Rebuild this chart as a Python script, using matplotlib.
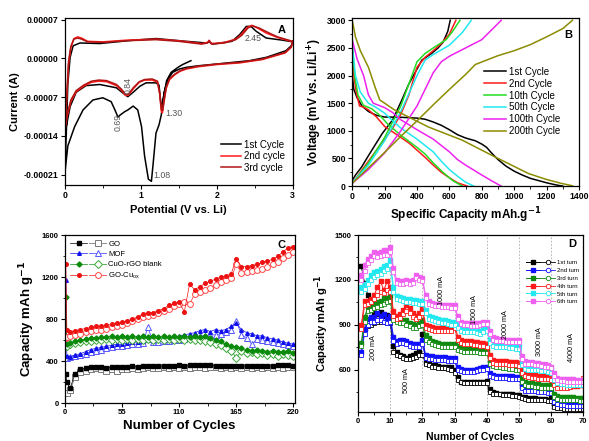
import matplotlib
matplotlib.use('Agg')
import matplotlib.pyplot as plt
from matplotlib.legend_handler import HandlerTuple
from matplotlib.lines import Line2D
from matplotlib.ticker import MultipleLocator, FixedLocator, FormatStrFormatter

plt.rcParams['font.family'] = ['Liberation Sans', 'DejaVu Sans']
plt.rcParams['mathtext.default'] = 'regular'

# ---------------- A: cyclic voltammetry (current in 1e-5 A) ----------------
cv1_v = [1.66, 1.55, 1.49, 1.40, 1.34, 1.30, 1.27, 1.24, 1.20, 1.16, 1.14, 1.10, 1.05, 1.01,
         0.96, 0.90, 0.83, 0.79, 0.73, 0.70, 0.66, 0.61, 0.50, 0.37, 0.24, 0.13, 0.04, 0.0,
         0.02, 0.04, 0.07, 0.11, 0.20, 0.46, 0.90, 1.20, 1.60, 1.86, 1.90, 1.95, 2.20, 2.30,
         2.39, 2.45, 2.52, 2.65, 2.87, 3.0,
         2.98, 2.91, 2.65, 2.43, 2.21, 2.0, 1.77, 1.60, 1.51, 1.42, 1.36, 1.31, 1.28, 1.26,
         1.24, 1.20, 1.07, 0.99, 0.90, 0.83, 0.77, 0.68, 0.46, 0.28, 0.15, 0.07, 0.02, 0.0]
cv1_i = [-0.4, -1.1, -1.6, -2.5, -4.0, -6.9, -10.2, -12.0, -13.5, -19.4, -22.2, -21.8, -17.6, -12.3,
         -9.3, -8.6, -9.3, -9.6, -10.2, -10.6, -9.3, -7.8, -7.1, -7.5, -9.3, -12.3, -15.8, -20.9,
         -13.5, -4.6, 0.2, 2.3, 2.8, 2.7, 3.3, 3.6, 3.1, 2.8, 3.0, 2.6, 3.1, 4.3,
         5.8, 5.8, 4.9, 3.7, 3.3, 3.0,
         2.3, 1.4, 0.2, -0.4, -0.7, -1.0, -1.3, -1.6, -1.9, -2.5, -3.7, -6.0, -9.0, -7.5,
         -4.8, -4.4, -4.4, -5.0, -6.1, -6.9, -6.3, -5.3, -4.7, -4.9, -6.1, -8.7, -12.3, -13.5]

cv2_v = [3.0, 2.98, 2.9, 2.6, 2.3, 2.0, 1.75, 1.6, 1.52, 1.45, 1.38, 1.33, 1.30, 1.285, 1.27,
         1.25, 1.22, 1.15, 1.05, 0.98, 0.90, 0.84, 0.80, 0.75, 0.68, 0.55, 0.45, 0.35, 0.25,
         0.15, 0.08, 0.03, 0.0, 0.01, 0.03, 0.05, 0.08, 0.12, 0.17, 0.22, 0.30, 0.50, 0.80,
         1.0, 1.2, 1.5, 1.8, 1.88, 1.90, 1.93, 2.1, 2.25, 2.32, 2.40, 2.46, 2.55, 2.65, 2.8,
         2.9, 3.0]
cv2_i = [3.0, 2.0, 1.0, -0.2, -0.8, -1.1, -1.5, -1.9, -2.3, -2.9, -3.8, -5.5, -8.0, -9.8, -9.5,
         -6.5, -4.3, -3.9, -3.9, -4.3, -5.5, -6.6, -6.7, -5.8, -4.9, -4.2, -4.1, -4.3, -5.0,
         -6.0, -7.8, -10.5, -13.0, -11.0, -6.0, -1.0, 2.0, 3.6, 3.9, 3.7, 3.1, 3.0, 3.3,
         3.4, 3.5, 3.2, 2.7, 2.9, 3.3, 2.7, 2.9, 3.5, 4.3, 5.6, 6.0, 5.4, 4.6, 3.8,
         3.4, 3.0]

cv3_v = [3.0, 2.98, 2.9, 2.6, 2.3, 2.0, 1.75, 1.6, 1.52, 1.45, 1.38, 1.34, 1.31, 1.29, 1.27,
         1.25, 1.22, 1.15, 1.05, 0.98, 0.90, 0.84, 0.80, 0.75, 0.68, 0.55, 0.45, 0.35, 0.25,
         0.15, 0.08, 0.03, 0.0, 0.01, 0.03, 0.05, 0.08, 0.12, 0.17, 0.22, 0.30, 0.50, 0.80,
         1.0, 1.2, 1.5, 1.8, 1.88, 1.90, 1.93, 2.1, 2.25, 2.33, 2.41, 2.47, 2.56, 2.66, 2.8,
         2.9, 3.0]
cv3_i = [3.1, 2.1, 1.1, -0.1, -0.7, -1.0, -1.4, -1.8, -2.2, -2.8, -3.6, -5.0, -7.5, -9.4, -9.2,
         -6.3, -4.1, -3.7, -3.8, -4.2, -5.3, -6.4, -6.5, -5.6, -4.7, -4.0, -3.9, -4.1, -4.8,
         -5.8, -7.5, -10.2, -12.6, -10.5, -5.5, -0.5, 2.2, 3.5, 3.7, 3.5, 3.0, 2.9, 3.2,
         3.3, 3.4, 3.1, 2.6, 2.8, 3.2, 2.6, 2.8, 3.4, 4.2, 5.5, 5.9, 5.5, 4.8, 3.9,
         3.5, 3.1]

# ---------------- B: charge / discharge profiles ----------------
b_labels = ['1st Cycle', '2nd Cycle', '10th Cycle', '50th Cycle', '100th Cycle', '200th Cycle']
b_colors = ['black', '#ff1a1a', '#22dd22', '#22e8f0', '#ee22ee', '#8c8c00']
dis_cap = [
    [0, 10, 30, 60, 100, 150, 200, 300, 400, 450, 500, 550, 600, 650, 700, 760, 800, 830, 860,
     900, 950, 1000, 1050, 1100, 1200, 1260, 1300],
    [0, 10, 25, 45, 70, 100, 150, 200, 250, 300, 350, 400, 450, 500, 550, 600, 650, 710],
    [0, 15, 35, 70, 120, 170, 220, 300, 400, 450, 500, 560, 620, 680],
    [0, 20, 50, 100, 150, 200, 250, 300, 400, 500, 550, 600, 650, 700, 750],
    [0, 30, 70, 100, 130, 200, 250, 300, 400, 500, 600, 650, 700, 800, 870, 920],
    [0, 20, 50, 100, 140, 170, 260, 470, 680, 880, 1090, 1200, 1290, 1360],
]
dis_volt = [
    [2000, 1750, 1600, 1450, 1350, 1280, 1250, 1245, 1230, 1210, 1160, 1100, 1020, 930, 870, 820,
     760, 700, 600, 480, 360, 270, 200, 140, 60, 20, 0],
    [2500, 2000, 1700, 1450, 1430, 1380, 1250, 1080, 980, 880, 780, 650, 520, 380, 250, 150, 60, 0],
    [2600, 2000, 1650, 1460, 1400, 1280, 1120, 920, 700, 580, 420, 250, 100, 0],
    [2550, 2000, 1700, 1500, 1420, 1320, 1180, 1050, 850, 620, 450, 300, 180, 70, 0],
    [2650, 2300, 2000, 1650, 1500, 1420, 1330, 1200, 1020, 850, 620, 480, 380, 200, 80, 0],
    [3000, 2700, 2450, 2150, 1800, 1560, 1380, 1070, 830, 530, 225, 120, 50, 5],
]
chg_cap = [
    [0, 20, 58, 100, 185, 250, 305, 350, 408, 430, 490, 530, 560, 590, 605],
    [0, 50, 100, 150, 200, 250, 300, 350, 400, 450, 500, 550, 600, 640],
    [0, 100, 200, 300, 350, 400, 450, 500, 580, 620, 665],
    [0, 100, 200, 300, 400, 450, 500, 600, 680, 735],
    [0, 100, 200, 300, 400, 450, 500, 550, 600, 700, 800, 920],
    [0, 100, 200, 300, 400, 500, 600, 700, 760, 900, 1000, 1100, 1200, 1300, 1360],
]
chg_volt = [
    [100, 200, 345, 550, 950, 1200, 1550, 1850, 2160, 2280, 2400, 2500, 2600, 2800, 3000],
    [50, 250, 450, 650, 850, 1050, 1300, 1650, 2150, 2330, 2450, 2580, 2750, 3000],
    [50, 420, 880, 1450, 1850, 2250, 2400, 2500, 2650, 2800, 3000],
    [60, 380, 820, 1350, 2000, 2280, 2380, 2550, 2780, 3000],
    [50, 300, 600, 1000, 1450, 1750, 2050, 2250, 2350, 2500, 2650, 3000],
    [50, 330, 610, 900, 1180, 1470, 1750, 2020, 2200, 2360, 2450, 2560, 2700, 2850, 3000],
]

# ---------------- C: cycling performance ----------------
c_cycles = [1, 2, 5, 10, 15, 20, 25, 30, 35, 40, 45, 50, 55, 60, 65, 70, 75, 80, 85, 90, 95,
            100, 105, 110, 115, 120, 125, 130, 135, 140, 145, 150, 155, 160, 165, 170, 175,
            180, 185, 190, 195, 200, 205, 210, 215, 220]
c_labels = ['GO', 'MOF', 'CuO-rGO blank', 'GO-Cu$_{ox}$']
go_fill = [280, 200, 140, 280, 320, 330, 340, 340, 340, 335, 340, 345, 340, 345, 350, 345, 350,
           355, 350, 350, 355, 350, 355, 360, 355, 360, 360, 360, 360, 360, 355, 350, 355, 350,
           355, 350, 355, 350, 355, 350, 355, 355, 360, 360, 360, 355]
go_open = [100, 100, 120, 250, 300, 310, 320, 330, 320, 310, 320, 310, 320, 320, 330, 320, 330,
           340, 330, 330, 340, 330, 340, 330, 340, 330, 340, 340, 330, 340, 340, 330, 340, 330,
           340, 330, 340, 330, 340, 330, 340, 330, 340, 330, 340, 340]
mof_fill = [1170, 450, 440, 460, 470, 490, 510, 520, 530, 540, 550, 560, 560, 570, 580, 580, 590,
            600, 600, 610, 610, 620, 620, 640, 650, 660, 670, 690, 700, 680, 700, 690, 700, 730,
            760, 700, 670, 660, 640, 640, 620, 610, 600, 580, 570, 560]
mof_open = [430, 430, 440, 450, 460, 470, 490, 500, 510, 520, 530, 540, 540, 550, 560, 560, 570,
            720, 580, 580, 590, 590, 600, 600, 610, 620, 630, 640, 640, 650, 650, 660, 680, 700,
            780, 650, 620, 560, 610, 600, 590, 580, 570, 560, 550, 540]
cuo_fill = [1010, 560, 570, 590, 600, 610, 620, 620, 630, 630, 640, 630, 640, 630, 640, 630, 640,
            630, 640, 630, 640, 630, 640, 630, 640, 630, 640, 630, 640, 620, 600, 590, 560, 540,
            530, 520, 510, 500, 510, 500, 490, 500, 490, 490, 500, 480]
cuo_open = [540, 540, 560, 570, 580, 590, 590, 600, 600, 610, 600, 610, 600, 610, 600, 610, 600,
            610, 600, 610, 600, 610, 600, 610, 600, 610, 600, 600, 590, 580, 560, 550, 520, 500,
            430, 500, 480, 490, 470, 480, 460, 470, 450, 470, 460, 450]
gocu_fill = [1320, 700, 680, 690, 700, 710, 720, 730, 730, 740, 750, 760, 770, 780, 800, 820, 850,
             860, 860, 880, 900, 930, 950, 960, 870, 1130, 1080, 1110, 1140, 1160, 1180, 1200,
             1210, 1230, 1370, 1300, 1300, 1310, 1320, 1340, 1350, 1370, 1400, 1440, 1480, 1490]
gocu_open = [620, 630, 640, 650, 660, 680, 690, 700, 700, 710, 720, 730, 740, 760, 780, 800, 820,
             830, 840, 860, 880, 900, 920, 940, 960, 940, 1040, 1060, 1080, 1100, 1120, 1150,
             1170, 1190, 1320, 1240, 1250, 1260, 1270, 1280, 1300, 1320, 1340, 1380, 1410, 1440]

# ---------------- D: rate capability ----------------
d_cycles = list(range(1, 71))
d_labels = ['1st turn', '2nd turn', '3rd turn', '4th turn', '5th turn', '6th turn']
d_rate_pos = [4.7, 15, 26, 36.3, 46, 56.5, 66.4]
d_rate_val = [750, 530, 1130, 1000, 905, 785, 750]
d_rate_txt = ['200 mA', '500 mA', '1000 mA', '1500 mA', '2000 mA', '3000 mA', '4000 mA']
d_fill = [
    [1290, 1180, 1100, 1020, 980, 970, 985, 960, 965, 950,
     760, 720, 700, 690, 680, 690, 700, 710, 720, 840,
     650, 640, 630, 630, 625, 620, 620, 620, 620, 600,
     550, 520, 520, 520, 520, 520, 520, 520, 520, 525,
     470, 450, 445, 440, 440, 440, 435, 435, 430, 430,
     420, 415, 410, 410, 410, 405, 405, 405, 400, 420,
     370, 360, 360, 355, 355, 355, 350, 350, 350, 350],
    [720, 870, 940, 950, 950, 980, 960, 970, 940, 960,
     820, 790, 800, 800, 790, 780, 775, 770, 770, 800,
     700, 690, 690, 685, 685, 685, 685, 680, 680, 680,
     620, 605, 600, 600, 600, 600, 605, 610, 620, 620,
     580, 565, 560, 560, 560, 560, 555, 555, 550, 550,
     500, 475, 470, 470, 470, 465, 465, 460, 460, 460,
     400, 385, 380, 380, 375, 375, 375, 370, 370, 370],
    [780, 950, 1020, 1020, 1040, 1050, 1060, 1080, 1080, 1090,
     960, 945, 940, 935, 930, 915, 905, 900, 910, 930,
     830, 810, 790, 785, 780, 775, 775, 770, 770, 770,
     760, 750, 745, 745, 740, 740, 735, 735, 730, 730,
     660, 645, 640, 635, 630, 630, 625, 625, 620, 620,
     540, 515, 510, 510, 505, 505, 500, 500, 500, 500,
     440, 425, 420, 420, 415, 415, 415, 410, 410, 410],
    [900, 1060, 1060, 1070, 1100, 1150, 1190, 1130, 1190, 1150,
     990, 960, 970, 1000, 1030, 1010, 980, 960, 980, 1010,
     900, 890, 885, 880, 880, 885, 880, 880, 885, 910,
     820, 800, 795, 790, 790, 785, 785, 780, 780, 775,
     700, 665, 660, 660, 655, 655, 650, 650, 650, 645,
     600, 575, 570, 565, 565, 560, 560, 555, 555, 550,
     520, 500, 500, 495, 495, 495, 490, 490, 495, 500],
    [1150, 1170, 1200, 1230, 1250, 1260, 1270, 1290, 1300, 1330,
     1150, 1090, 1085, 1080, 1075, 1070, 1065, 1065, 1060, 1060,
     1000, 960, 950, 945, 940, 935, 930, 925, 920, 920,
     900, 880, 875, 875, 870, 870, 865, 860, 870, 880,
     800, 780, 775, 775, 770, 770, 765, 765, 760, 760,
     650, 625, 620, 620, 615, 615, 610, 610, 605, 600,
     550, 530, 525, 525, 520, 520, 520, 520, 520, 520],
    [1230, 1300, 1340, 1360, 1390, 1380, 1390, 1400, 1400, 1420,
     1280, 1200, 1190, 1190, 1200, 1190, 1200, 1230, 1220, 1210,
     1100, 1060, 1045, 1040, 1040, 1035, 1035, 1035, 1030, 1030,
     960, 920, 915, 915, 910, 910, 910, 915, 920, 920,
     860, 820, 810, 805, 805, 800, 800, 800, 800, 800,
     690, 655, 650, 650, 645, 645, 640, 635, 630, 620,
     580, 545, 540, 540, 535, 535, 535, 530, 530, 530],
]
d_open = [
    [880, 870, 890, 900, 910, 920, 920, 920, 915, 915,
     720, 700, 690, 680, 670, 670, 675, 685, 700, 700,
     640, 630, 620, 615, 610, 610, 610, 605, 600, 580,
     530, 515, 510, 510, 510, 510, 510, 510, 510, 510,
     450, 440, 435, 435, 430, 430, 430, 425, 425, 420,
     410, 405, 400, 400, 400, 395, 395, 395, 390, 390,
     350, 345, 345, 340, 340, 340, 340, 335, 335, 335],
    [700, 840, 900, 920, 920, 930, 930, 920, 910, 920,
     790, 770, 780, 780, 770, 760, 755, 750, 750, 770,
     680, 670, 670, 665, 665, 665, 665, 660, 660, 660,
     600, 590, 585, 585, 585, 585, 590, 595, 600, 605,
     560, 550, 545, 545, 545, 545, 540, 540, 540, 535,
     480, 460, 455, 455, 455, 450, 450, 450, 445, 445,
     385, 370, 365, 365, 360, 360, 360, 355, 355, 355],
    [760, 920, 990, 1000, 1010, 1020, 1030, 1040, 1050, 1060,
     930, 920, 915, 910, 900, 890, 880, 880, 890, 900,
     800, 785, 770, 765, 760, 755, 755, 750, 750, 750,
     735, 725, 720, 720, 715, 715, 715, 710, 710, 710,
     640, 625, 620, 615, 610, 610, 605, 605, 600, 600,
     515, 495, 490, 490, 485, 485, 480, 480, 480, 480,
     420, 405, 400, 400, 400, 395, 395, 395, 390, 390],
    [870, 1030, 1040, 1050, 1070, 1100, 1120, 1110, 1130, 1120,
     960, 940, 945, 970, 990, 980, 950, 940, 950, 980,
     880, 870, 865, 860, 860, 860, 860, 860, 860, 880,
     800, 780, 775, 770, 770, 765, 765, 760, 760, 755,
     680, 645, 640, 640, 635, 635, 630, 630, 630, 625,
     580, 555, 550, 545, 545, 540, 540, 535, 535, 530,
     500, 480, 480, 480, 480, 485, 490, 500, 520, 545],
    [1120, 1140, 1170, 1200, 1220, 1230, 1240, 1260, 1270, 1300,
     1120, 1070, 1065, 1060, 1055, 1050, 1045, 1045, 1040, 1040,
     980, 940, 930, 925, 920, 915, 910, 905, 900, 900,
     880, 860, 855, 855, 850, 850, 845, 840, 850, 860,
     780, 760, 755, 755, 750, 750, 745, 745, 740, 740,
     630, 605, 600, 600, 595, 595, 590, 590, 585, 580,
     530, 510, 505, 505, 500, 500, 500, 500, 500, 500],
    [1200, 1260, 1310, 1330, 1360, 1350, 1360, 1370, 1370, 1390,
     1250, 1180, 1170, 1170, 1180, 1170, 1180, 1210, 1200, 1190,
     1080, 1040, 1030, 1025, 1025, 1020, 1020, 1020, 1015, 1015,
     940, 905, 900, 900, 895, 895, 895, 900, 905, 905,
     840, 800, 795, 790, 790, 785, 785, 785, 785, 785,
     670, 640, 635, 635, 630, 630, 625, 620, 615, 610,
     560, 530, 525, 525, 520, 520, 520, 520, 520, 520],
]
d_colors = ['black', '#1010ff', '#108a10', '#ff1a1a', '#22e8f0', '#f060f0']


def style_axis(ax, size):
    ax.tick_params(direction='out', length=3, width=0.8, labelsize=size, pad=1.5)
    ax.tick_params(which='minor', direction='out', length=1.8, width=0.6)
    ax.tick_params(top=False, right=False, which='both')
    for lab in ax.get_xticklabels() + ax.get_yticklabels():
        lab.set_fontweight('bold')
    for s in ax.spines.values():
        s.set_linewidth(0.9)


fig = plt.figure(figsize=(5.89, 4.41), dpi=100)

# ---- panel A ----
axA = fig.add_axes([0.110, 0.580, 0.387, 0.379])
axA.plot(cv1_v, [i * 1e-5 for i in cv1_i], color='black', lw=1.1, label='1st Cycle')
axA.plot(cv2_v, [i * 1e-5 for i in cv2_i], color='#ff1a1a', lw=1.1, label='2nd cycle')
axA.plot(cv3_v, [i * 1e-5 for i in cv3_i], color='#b01515', lw=1.1, label='3rd cycle')
axA.set_xlim(0, 3)
axA.set_ylim(-0.000229, 0.000073)
axA.xaxis.set_major_locator(MultipleLocator(1))
axA.xaxis.set_minor_locator(MultipleLocator(0.5))
axA.yaxis.set_major_locator(FixedLocator([0.00007, 0.0, -0.00007, -0.00014, -0.00021]))
axA.yaxis.set_major_formatter(FormatStrFormatter('%.5f'))
axA.set_xlabel('Potential (V vs. Li)', fontsize=8, fontweight='bold', labelpad=3)
axA.set_ylabel('Current (A)', fontsize=8, fontweight='bold', labelpad=3)
style_axis(axA, 6.3)
axA.legend(loc='lower right', bbox_to_anchor=(0.99, 0.04), fontsize=7, frameon=False,
           handlelength=2.0, labelspacing=0.15, borderaxespad=0.2, handletextpad=0.3)
axA.text(0.97, 0.93, 'A', transform=axA.transAxes, ha='right', va='center', fontsize=8,
         fontweight='bold')
ann_col = '#555555'
axA.text(2.36, 0.000036, '2.45', fontsize=6.3, color=ann_col, ha='left', va='center')
axA.text(0.83, -0.000048, '0.84', fontsize=6.3, color=ann_col, rotation=90, ha='center', va='center')
axA.text(0.70, -0.000115, '0.69', fontsize=6.3, color=ann_col, rotation=90, ha='center', va='center')
axA.text(1.32, -0.0001, '1.30', fontsize=6.3, color=ann_col, ha='left', va='center')
axA.text(1.16, -0.000212, '1.08', fontsize=6.3, color=ann_col, ha='left', va='center')

# ---- panel B ----
axB = fig.add_axes([0.598, 0.578, 0.385, 0.381])
for k in range(len(b_labels)):
    axB.plot(dis_cap[k], dis_volt[k], color=b_colors[k], lw=1.1, label=b_labels[k])
    axB.plot(chg_cap[k], chg_volt[k], color=b_colors[k], lw=1.1)
axB.set_xlim(0, 1400)
axB.set_ylim(0, 3040)
axB.xaxis.set_major_locator(MultipleLocator(200))
axB.xaxis.set_minor_locator(MultipleLocator(100))
axB.yaxis.set_major_locator(MultipleLocator(500))
axB.yaxis.set_minor_locator(MultipleLocator(250))
axB.set_xlabel('Specific Capacity mAh.g$^{\\mathbf{-1}}$', fontsize=8.5, fontweight='bold', labelpad=3)
axB.set_ylabel('Voltage (mV vs. Li/Li$^{\\mathbf{+}}$)', fontsize=8.5, fontweight='bold', labelpad=2)
style_axis(axB, 6.2)
axB.legend(loc='upper left', bbox_to_anchor=(0.56, 0.74), fontsize=7, frameon=False,
           handlelength=2.3, labelspacing=0.2, borderaxespad=0.1, handletextpad=0.3)
axB.text(0.97, 0.90, 'B', transform=axB.transAxes, ha='right', va='center', fontsize=8,
         fontweight='bold')

# ---- panel C ----
axC = fig.add_axes([0.110, 0.086, 0.390, 0.381])
c_sets = [(go_fill, go_open, 's', 'black', '#7a7a7a'),
          (mof_fill, mof_open, '^', '#1010ee', '#5555ff'),
          (cuo_fill, cuo_open, 'D', '#0a8a0a', '#3aa83a'),
          (gocu_fill, gocu_open, 'o', '#ee1111', '#ff4444')]
c_handles = []
for (yf, yo, mk, cf, co), lab in zip(c_sets, c_labels):
    ho, = axC.plot(c_cycles, yo, marker=mk, color=co, mfc='white', mec=co, ms=4.2, mew=0.7, lw=0.6)
    hf, = axC.plot(c_cycles, yf, marker=mk, color=cf, mfc=cf, mec=cf, ms=2.6, lw=0.5)
    c_handles.append((hf, ho))
axC.set_xlim(0, 221)
axC.set_ylim(0, 1600)
axC.xaxis.set_major_locator(MultipleLocator(55))
axC.xaxis.set_minor_locator(MultipleLocator(27.5))
axC.yaxis.set_major_locator(MultipleLocator(400))
axC.yaxis.set_minor_locator(MultipleLocator(200))
axC.set_xlabel('Number of Cycles', fontsize=9.5, fontweight='bold', labelpad=3)
axC.set_ylabel('Capacity mAh g$^{\\mathbf{-1}}$', fontsize=9.5, fontweight='bold', labelpad=3)
style_axis(axC, 5.5)
axC.legend(c_handles, c_labels, handler_map={tuple: HandlerTuple(ndivide=None, pad=0.3)},
           loc='upper left', bbox_to_anchor=(0.0, 1.0), fontsize=5.6, frameon=False,
           handlelength=4.6, labelspacing=0.35, borderaxespad=0.3, handletextpad=0.3)
axC.text(0.96, 0.94, 'C', transform=axC.transAxes, ha='right', va='center', fontsize=8,
         fontweight='bold')

# ---- panel D ----
axD = fig.add_axes([0.608, 0.066, 0.382, 0.401])
for x in range(10, 70, 10):
    axD.axvline(x, color='#aaaaaa', lw=0.6, ls=(0, (2, 2)))
d_handles = []
for k in range(len(d_labels)):
    axD.plot(d_cycles, d_fill[k], marker='s', color=d_colors[k], ms=2.6, lw=0.7)
    axD.plot(d_cycles, d_open[k], marker='s', color=d_colors[k], mfc='white',
             mec=d_colors[k], ms=3.4, mew=0.6, lw=0.6)
    # legend shows filled square / open circle pairs
    d_handles.append((Line2D([], [], marker='s', color=d_colors[k], ms=2.6, lw=0.7),
                      Line2D([], [], marker='o', color=d_colors[k], mfc='white',
                             mec=d_colors[k], ms=3.2, mew=0.6, lw=0.6)))
for xp, yp, t in zip(d_rate_pos, d_rate_val, d_rate_txt):
    axD.text(xp, yp, t, rotation=90, fontsize=5.2, ha='center', va='center')
axD.set_xlim(0, 70)
axD.set_ylim(318, 1500)
axD.xaxis.set_major_locator(MultipleLocator(10))
axD.xaxis.set_minor_locator(MultipleLocator(5))
axD.yaxis.set_major_locator(FixedLocator([600, 900, 1200, 1500]))
axD.yaxis.set_minor_locator(FixedLocator([450, 750, 1050, 1350]))
axD.set_xlabel('Number of Cycles', fontsize=7.5, fontweight='bold', labelpad=5)
axD.set_ylabel('Capacity mAh g$^{\\mathbf{-1}}$', fontsize=8, fontweight='bold', labelpad=3)
style_axis(axD, 5.5)
axD.legend(d_handles, d_labels, handler_map={tuple: HandlerTuple(ndivide=None, pad=0.2)},
           loc='upper right', bbox_to_anchor=(1.0, 0.88), fontsize=4.3, frameon=False,
           handlelength=5.0, labelspacing=0.45, borderaxespad=0.2, handletextpad=0.3)
axD.text(0.97, 0.95, 'D', transform=axD.transAxes, ha='right', va='center', fontsize=8,
         fontweight='bold')

fig.savefig('out.png', dpi=100)
